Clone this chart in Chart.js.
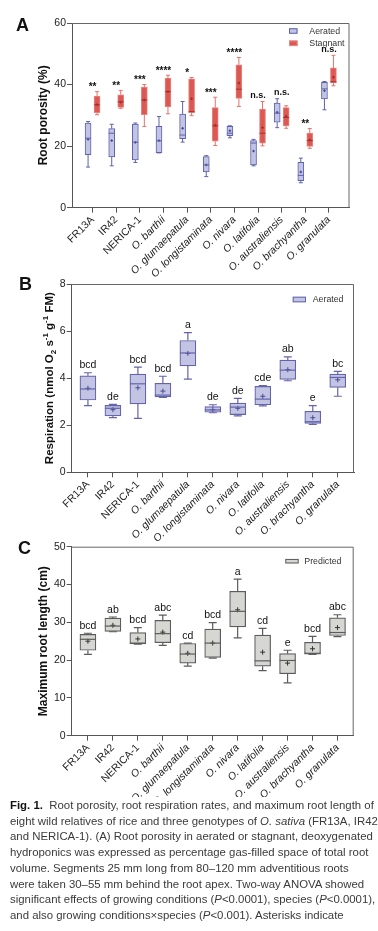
<!DOCTYPE html>
<html><head><meta charset="utf-8">
<script src="https://cdn.jsdelivr.net/npm/chart.js@4.4.0/dist/chart.umd.min.js"></script>
<style>
html,body{margin:0;padding:0;background:#fff;width:378px;height:931px;overflow:hidden;font-family:"Liberation Sans",Arial,sans-serif;}
.pane{position:absolute;left:0;width:378px;}
.letter{position:absolute;font-weight:bold;font-size:18px;line-height:18px;color:#111;}
#caption{position:absolute;left:10px;top:798px;font-size:11.4px;line-height:15.7px;color:#3a3a3a;white-space:nowrap;}
#caption b{color:#111;}
</style></head><body>
<div class="pane" style="top:0;height:282px"><canvas id="cA"></canvas></div>
<div class="pane" style="top:270px;height:280px"><canvas id="cB"></canvas></div>
<div class="pane" style="top:535px;height:262px"><canvas id="cC"></canvas></div>
<div class="letter" style="left:16px;top:16px">A</div>
<div class="letter" style="left:19px;top:275px">B</div>
<div class="letter" style="left:18px;top:539px">C</div>
<div id="caption">
<div><b>Fig. 1.</b>&nbsp; Root porosity, root respiration rates, and maximum root length of</div>
<div>eight wild relatives of rice and three genotypes of <i>O. sativa</i> (FR13A, IR42,</div>
<div>and NERICA-1). (A) Root porosity in aerated or stagnant, deoxygenated</div>
<div>hydroponics was expressed as percentage gas-filled space of total root</div>
<div>volume. Segments 25 mm long from 80–120 mm adventitious roots</div>
<div>were taken 30–55 mm behind the root apex. Two-way ANOVA showed</div>
<div>significant effects of growing conditions (<i>P</i>&lt;0.0001), species (<i>P</i>&lt;0.0001),</div>
<div>and also growing conditions×species (<i>P</i>&lt;0.001). Asterisks indicate</div>
</div>
<script>
// ---------------- data ----------------
const categories = ['FR13A','IR42','NERICA-1','O. barthii','O. glumaepatula','O. longistaminata','O. nivara','O. latifolia','O. australiensis','O. brachyantha','O. granulata'];

// Panel A: root porosity (%)
const porAerMin  = [13.2,13.6,14.7,17.8,21.3,10.1,22.7,13.6,26.0, 8.1,31.8];
const porAerQ1   = [17.2,16.5,15.5,17.9,22.4,11.6,23.4,13.9,27.8, 8.8,35.3];
const porAerMed  = [22.6,24.2,21.3,21.7,23.6,13.9,24.2,21.0,30.7,10.5,38.6];
const porAerQ3   = [27.5,25.7,27.2,26.4,30.4,16.6,26.4,21.8,34.0,14.7,40.7];
const porAerMax  = [28.0,27.1,27.5,29.6,34.5,16.9,26.6,22.2,35.4,16.1,41.0];
const porAerMean = [22.2,21.8,21.2,21.8,25.8,13.9,25.0,18.4,31.0,11.6,38.0];

const porStgMin  = [30.2,32.3,26.4,30.5,29.9,20.2,32.9,20.1,25.8,19.3,39.6];
const porStgQ1   = [30.9,32.6,30.2,32.7,30.9,21.6,35.5,21.0,26.6,19.9,40.5];
const porStgMed  = [33.4,34.4,35.0,37.7,31.2,26.6,38.5,24.2,29.3,21.8,40.9];
const porStgQ3   = [36.3,36.7,39.2,42.1,41.9,32.5,46.4,32.0,32.5,24.2,45.4];
const porStgMax  = [37.7,38.1,40.0,43.0,42.3,35.9,48.8,34.5,33.1,25.7,49.5];
const porStgMean = [33.5,34.3,35.0,37.7,35.4,26.8,40.5,26.0,29.7,22.0,42.4];
const porSignif  = ['**','**','***','****','*','***','****','n.s.','n.s.','**','n.s.'];

// Panel B: respiration (nmol O2 s-1 g-1 FM), aerated
const respMin  = [2.83,2.32,2.29,3.18,3.96,2.53,2.40,2.82,3.89,2.04,3.23];
const respQ1   = [3.07,2.40,2.91,3.20,4.52,2.55,2.45,2.87,3.95,2.08,3.61];
const respMed  = [3.54,2.72,3.76,3.28,5.07,2.65,2.77,3.11,4.34,2.15,4.03];
const respQ3   = [4.10,2.84,4.17,3.78,5.60,2.79,2.94,3.65,4.77,2.59,4.17];
const respMax  = [4.23,2.89,4.47,4.08,5.93,2.87,3.14,3.68,4.90,2.83,4.29];
const respMean = [3.57,2.66,3.59,3.45,5.05,2.66,2.72,3.23,4.36,2.32,3.93];
const respGroups = ['bcd','de','bcd','bcd','a','de','de','cde','ab','e','bc'];

// Panel C: maximum root length (cm), predicted
const lenMin  = [21.5,27.5,24.2,23.9,18.4,20.5,25.9,17.2,14.0,21.5,26.2];
const lenQ1   = [22.6,27.6,24.3,24.6,19.2,20.7,28.8,18.4,16.4,21.6,26.5];
const lenMed  = [25.5,29.0,24.5,27.0,21.6,24.5,32.9,19.8,19.9,21.8,27.3];
const lenQ3   = [26.8,31.1,27.3,30.5,24.4,28.2,38.2,26.6,21.7,24.7,31.2];
const lenMax  = [27.1,31.4,28.6,31.9,24.5,29.9,41.4,28.4,22.6,26.3,32.0];
const lenMean = [25.0,29.2,25.6,27.4,21.8,24.5,33.3,22.1,19.2,23.0,28.6];
const lenGroups = ['bcd','ab','bcd','abc','cd','bcd','a','cd','e','bcd','abc'];

const yTicksA = [0,20,40,60];
const yTicksB = [0,2,4,6,8];
const yTicksC = [0,10,20,30,40,50];

// ---------------- helpers ----------------
const FAM = '"Liberation Sans", Arial, Helvetica, sans-serif';
Chart.defaults.font.family = FAM;
Chart.defaults.color = '#222';
Chart.defaults.animation = false;

function boxSet(label, off, q1, q3, min, max, med, st) {
  return {
    type: 'bar', label, order: 2,
    data: categories.map((c, i) => ({ x: i + off, y: [q1[i], q3[i]] })),
    backgroundColor: st.fill, borderColor: st.stroke, borderWidth: st.lw,
    borderSkipped: false, barThickness: st.thick, grouped: false,
    stats: { min, max, med, whisker: st.whisker || st.stroke, medColor: st.med || st.stroke, cap: st.cap, lw: st.lw }
  };
}
function meanSet(label, off, mean, color, r) {
  return {
    type: 'scatter', label, order: 1,
    data: categories.map((c, i) => ({ x: i + off, y: mean[i] })),
    pointStyle: 'cross', pointRadius: r, pointHoverRadius: r,
    borderColor: color, backgroundColor: color, borderWidth: 1, showLine: false
  };
}

const whiskers = {
  id: 'whiskers',
  afterDatasetsDraw(chart) {
    const ctx = chart.ctx, ys = chart.scales.y;
    chart.data.datasets.forEach((ds, di) => {
      if (!ds.stats) return;
      const s = ds.stats, meta = chart.getDatasetMeta(di);
      ctx.save();
      ctx.lineWidth = s.lw;
      meta.data.forEach((bar, i) => {
        const x = bar.x, w = bar.width;
        const yMin = ys.getPixelForValue(s.min[i]), yMax = ys.getPixelForValue(s.max[i]);
        const yQ1 = ys.getPixelForValue(ds.data[i].y[0]), yQ3 = ys.getPixelForValue(ds.data[i].y[1]);
        ctx.strokeStyle = s.whisker;
        ctx.beginPath();
        ctx.moveTo(x, yQ3); ctx.lineTo(x, yMax);
        ctx.moveTo(x - s.cap / 2, yMax); ctx.lineTo(x + s.cap / 2, yMax);
        ctx.moveTo(x, yQ1); ctx.lineTo(x, yMin);
        ctx.moveTo(x - s.cap / 2, yMin); ctx.lineTo(x + s.cap / 2, yMin);
        ctx.stroke();
        const yMed = ys.getPixelForValue(s.med[i]);
        ctx.strokeStyle = s.medColor;
        ctx.beginPath(); ctx.moveTo(x - w / 2, yMed); ctx.lineTo(x + w / 2, yMed); ctx.stroke();
      });
      ctx.restore();
    });
  }
};

const deco = {
  id: 'deco',
  afterDraw(chart, args, o) {
    const ctx = chart.ctx, ca = chart.chartArea, xs = chart.scales.x, ys = chart.scales.y;
    ctx.save();
    // frame (top + right)
    ctx.strokeStyle = o.frame; ctx.lineWidth = 1;
    ctx.beginPath();
    ctx.moveTo(ca.left, ca.top + 0.5); ctx.lineTo(ca.right - 0.5, ca.top + 0.5); ctx.lineTo(ca.right - 0.5, ca.bottom);
    ctx.stroke();
    // group / significance labels
    ctx.fillStyle = '#111';
    ctx.textAlign = 'center'; ctx.textBaseline = 'alphabetic';
    o.labels.forEach((t, i) => {
      const top = Math.max(...o.tops.map(a => a[i]));
      const x = xs.getPixelForValue(i);
      const y = ys.getPixelForValue(top);
      const star = t.indexOf('*') >= 0;
      ctx.font = star ? o.starFont : o.textFont;
      ctx.fillText(t, x, y - (star ? o.starGap : o.textGap));
    });
    // legend
    o.legend.forEach(it => {
      const bx = ca.right + it.dx, cy = ca.top + it.dy;
      ctx.fillStyle = it.fill; ctx.strokeStyle = it.stroke; ctx.lineWidth = 1;
      ctx.fillRect(bx, cy - it.h / 2, it.w, it.h);
      ctx.strokeRect(bx + 0.5, cy - it.h / 2 + 0.5, it.w - 1, it.h - 1);
      ctx.fillStyle = '#333'; ctx.font = '8.8px ' + FAM;
      ctx.textAlign = 'left'; ctx.textBaseline = 'middle';
      ctx.fillText(it.text, bx + it.tx, cy + 0.5);
    });
    // rich y title (with sub/superscripts)
    if (o.richTitle) {
      const r = o.richTitle;
      ctx.save();
      ctx.translate(r.x, (ca.top + ca.bottom) / 2);
      ctx.rotate(-Math.PI / 2);
      ctx.fillStyle = '#111'; ctx.textAlign = 'left'; ctx.textBaseline = 'alphabetic';
      let total = 0;
      r.parts.forEach(p => { ctx.font = 'bold ' + (p.s ? r.small : r.size) + 'px ' + FAM; total += ctx.measureText(p.t).width; });
      let cx = -total / 2;
      r.parts.forEach(p => {
        ctx.font = 'bold ' + (p.s ? r.small : r.size) + 'px ' + FAM;
        const dy = p.s === -1 ? 3 : (p.s === 1 ? -4.5 : 0);
        ctx.fillText(p.t, cx, r.size * 0.36 + dy);
        cx += ctx.measureText(p.t).width;
      });
      ctx.restore();
    }
    ctx.restore();
  }
};

function makeChart(id, cfg) {
  const xScale = {
    type: 'linear', min: cfg.xmin, max: cfg.xmax, offset: false, bounds: 'data',
    afterBuildTicks: s => { s.ticks = categories.map((c, i) => ({ value: i })); },
    afterFit: s => { s.height = cfg.xh; },
    grid: { display: true, drawOnChartArea: false, drawTicks: true, tickLength: 5, tickColor: '#555', offset: false },
    border: { display: true, color: '#555', width: 1 },
    ticks: {
      autoSkip: false, minRotation: 45, maxRotation: 45, padding: 1, color: '#222',
      callback: v => categories[v],
      font: c => ({ family: FAM, size: 10.5, style: c.index >= 3 ? 'italic' : 'normal' })
    }
  };
  const yScale = {
    type: 'linear', min: cfg.yticks[0], max: cfg.yticks[cfg.yticks.length - 1],
    afterBuildTicks: s => { s.ticks = cfg.yticks.map(v => ({ value: v })); },
    afterFit: s => { s.width = cfg.yw; },
    grid: { display: true, drawOnChartArea: false, drawTicks: true, tickLength: 5, tickColor: '#555' },
    border: { display: true, color: '#555', width: 1 },
    ticks: { padding: 1, color: '#222', font: { size: 10.5 } },
    title: cfg.ytitle ? { display: true, text: cfg.ytitle, font: { size: 12, weight: 'bold' }, color: '#111', padding: { top: cfg.tpad, bottom: 0 } } : { display: false }
  };
  return new Chart(document.getElementById(id), {
    type: 'bar',
    data: { datasets: cfg.datasets },
    options: {
      responsive: true, maintainAspectRatio: false, animation: false,
      layout: { padding: cfg.pad },
      scales: { x: xScale, y: yScale },
      plugins: { legend: { display: false }, tooltip: { enabled: false }, deco: cfg.deco }
    },
    plugins: [whiskers, deco]
  });
}

// ---------------- Panel A ----------------
const aerA = { fill: '#c2c4e5', stroke: '#5d62aa', thick: 6, cap: 4, lw: 1 };
const stgA = { fill: '#dc5853', stroke: '#e8857f', whisker: '#e2736e', med: '#a8322e', thick: 6, cap: 4, lw: 1 };
makeChart('cA', {
  xmin: -0.87, xmax: 10.87, xh: 74.3, yw: 72, yticks: yTicksA,
  ytitle: 'Root porosity (%)', tpad: 36,
  pad: { top: 23, right: 28.5, left: 0, bottom: 0 },
  datasets: [
    boxSet('Aerated', -0.19, porAerQ1, porAerQ3, porAerMin, porAerMax, porAerMed, aerA),
    boxSet('Stagnant', 0.19, porStgQ1, porStgQ3, porStgMin, porStgMax, porStgMed, stgA),
    meanSet('Aerated mean', -0.19, porAerMean, '#3d428a', 1.3),
    meanSet('Stagnant mean', 0.19, porStgMean, '#9a2a26', 1.3)
  ],
  deco: {
    frame: '#666', labels: porSignif, tops: [porAerMax, porStgMax],
    starFont: 'bold 10px ' + FAM, textFont: 'bold 9px ' + FAM, starGap: 1.5, textGap: 3.5,
    legend: [
      { text: 'Aerated', fill: aerA.fill, stroke: aerA.stroke, w: 8.5, h: 5.5, dx: -60.5, dy: 8, tx: 20.3 },
      { text: 'Stagnant', fill: stgA.fill, stroke: stgA.stroke, w: 8.5, h: 5.5, dx: -60.5, dy: 20.3, tx: 20.3 }
    ]
  }
});

// ---------------- Panel B ----------------
const aerB = { fill: '#c3c3e3', stroke: '#6464aa', thick: 16, cap: 8, lw: 1.2 };
makeChart('cB', {
  xmin: -0.65, xmax: 10.65, xh: 77.7, yw: 71.7, yticks: yTicksB,
  ytitle: null,
  pad: { top: 14, right: 24, left: 0, bottom: 0 },
  datasets: [
    boxSet('Aerated', 0, respQ1, respQ3, respMin, respMax, respMed, aerB),
    meanSet('Mean', 0, respMean, '#4a4a96', 2.5)
  ],
  deco: {
    frame: '#666', labels: respGroups, tops: [respMax],
    starFont: 'bold 10px ' + FAM, textFont: '10.5px ' + FAM, starGap: 1.5, textGap: 4.5,
    legend: [{ text: 'Aerated', fill: aerB.fill, stroke: aerB.stroke, w: 13.3, h: 5.6, dx: -61.3, dy: 15.5, tx: 20 }],
    richTitle: { x: 48.5, size: 11.5, small: 8, parts: [
      { t: 'Respiration (nmol O', s: 0 }, { t: '2', s: -1 }, { t: ' s', s: 0 }, { t: '-1', s: 1 },
      { t: ' g', s: 0 }, { t: '-1', s: 1 }, { t: ' FM)', s: 0 }] }
  }
});

// ---------------- Panel C ----------------
const preC = { fill: '#d6d6d2', stroke: '#5c5c5c', thick: 16, cap: 8, lw: 1.2 };
makeChart('cC', {
  xmin: -0.65, xmax: 10.65, xh: 61.3, yw: 71.7, yticks: yTicksC,
  ytitle: 'Maximum root length (cm)', tpad: 36,
  pad: { top: 11.7, right: 24.3, left: 0, bottom: 0 },
  datasets: [
    boxSet('Predicted', 0, lenQ1, lenQ3, lenMin, lenMax, lenMed, preC),
    meanSet('Mean', 0, lenMean, '#333', 2.5)
  ],
  deco: {
    frame: '#666', labels: lenGroups, tops: [lenMax],
    starFont: 'bold 10px ' + FAM, textFont: '10.5px ' + FAM, starGap: 1.5, textGap: 4.5,
    legend: [{ text: 'Predicted', fill: preC.fill, stroke: preC.stroke, w: 13.4, h: 4.5, dx: -68.4, dy: 14.5, tx: 19 }]
  }
});
</script>
</body></html>
